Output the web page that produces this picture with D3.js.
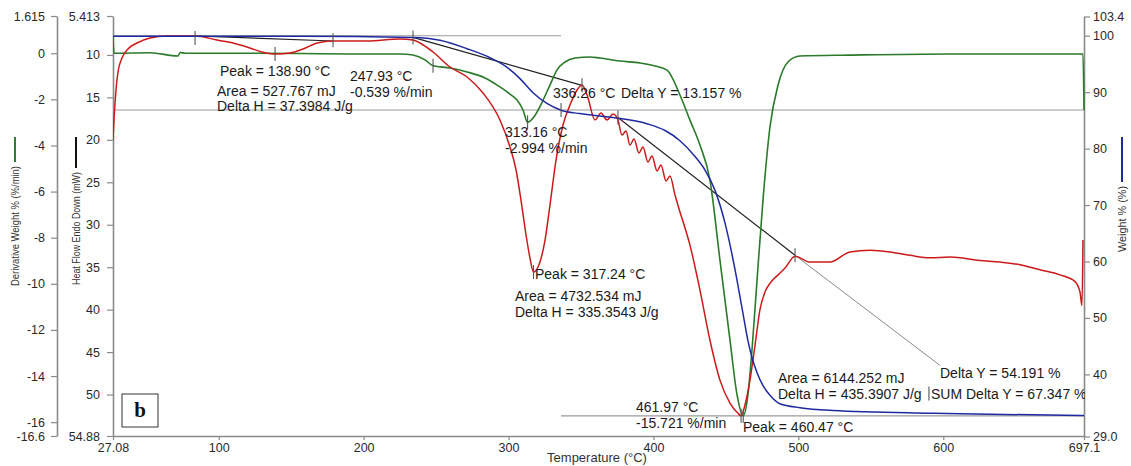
<!DOCTYPE html>
<html><head><meta charset="utf-8">
<script src="https://cdn.jsdelivr.net/npm/d3@7"></script>
<style>
html,body{margin:0;padding:0;background:#fff;}
svg{display:block;font-family:"Liberation Sans",Arial,sans-serif;}
.tick text{font-size:12.5px;fill:#2a2a2a;}
.ann{font-size:14px;fill:#1a1a1a;}
</style></head>
<body><svg id="c" width="1131" height="466"></svg>
<script>
// ---------------- data ----------------
// Weight % (blue)
const tempW = [27.08, 87.1, 156.1, 234.1, 252.7, 271.4, 287.2, 299.0, 307.9, 316.9, 326.5, 336.2, 349.3, 372.1, 395.5, 408.0, 418.3, 428.7, 435.6, 442.5, 449.4, 455.6, 461.1, 465.2, 468.0, 471.5, 475.6, 480.4, 487.3, 501.1, 523.9, 592.9, 697.1];
const weightPct = [99.9, 99.9, 99.9, 99.7, 99.2, 97.7, 96.1, 94.4, 92.4, 89.9, 88.0, 86.8, 86.2, 85.5, 84.4, 83.2, 81.4, 78.6, 76.2, 72.6, 66.8, 59.5, 51.8, 46.0, 43.0, 40.3, 38.0, 36.3, 34.8, 34.1, 33.6, 33.1, 32.7];
// Derivative weight %/min (green)
const tempD = [27.08, 27.8, 52.6, 71.9, 73.5, 76.8, 121.6, 156.1, 190.6, 225.1, 234.1, 242.4, 247.9, 259.6, 271.4, 283.8, 294.1, 301.0, 305.9, 310.0, 313.16, 318.0, 322.9, 328.6, 333.4, 339.0, 345.9, 356.2, 363.1, 376.9, 390.7, 401.1, 409.4, 418.3, 425.2, 432.1, 439.0, 445.9, 452.8, 457.7, 461.97, 465.2, 468.0, 471.5, 475.6, 480.4, 486.0, 492.8, 501.1, 535.6, 604.6, 696.4, 697.1];
const derivPct = [0.75, 0.0, 0.02, -0.12, 0.03, 0.0, 0.0, -0.01, -0.03, -0.03, -0.08, -0.29, -0.54, -0.64, -0.81, -1.07, -1.46, -1.77, -2.03, -2.46, -2.994, -2.72, -2.16, -1.38, -0.73, -0.38, -0.21, -0.16, -0.21, -0.34, -0.42, -0.55, -0.73, -1.81, -2.90, -3.98, -5.50, -8.97, -12.43, -14.82, -15.721, -14.82, -12.87, -9.83, -6.36, -3.20, -1.38, -0.38, -0.12, -0.08, -0.03, -0.03, -2.46];
// Heat flow mW (red)
const tempH = [27.08, 27.77, 29.15, 30.53, 33.29, 37.43, 43.64, 52.6, 64.3, 83.7, 98.8, 109.9, 121.6, 129.9, 138.9, 149.2, 158.2, 167.9, 178.9, 202.4, 225.1, 234.1, 238.9, 247.9, 259.6, 271.4, 282.4, 294.1, 301.0, 305.2, 308.6, 312.1, 314.8, 317.24, 321.7, 325.2, 328.6, 332.8, 337.6, 342.4, 347.3, 350.7, 354.2, 359.7, 363.8, 368.0, 372.1, 375.5, 378.3, 381.1, 383.8, 386.6, 390.0, 392.8, 396.2, 399.0, 402.5, 405.2, 408.7, 411.4, 414.9, 418.3, 421.1, 425.2, 432.1, 439.0, 445.9, 452.8, 458.3, 460.47, 463.2, 466.6, 470.1, 473.5, 477.0, 480.4, 486.0, 490.8, 497.7, 508.0, 521.8, 535.6, 549.4, 563.2, 577.0, 590.8, 604.6, 625.3, 639.1, 652.9, 666.7, 680.5, 690.9, 694.3, 695.7, 696.4];
const heatMW = [20.0, 17.66, 14.13, 12.01, 10.36, 9.30, 8.59, 8.0, 7.77, 7.77, 8.24, 8.59, 9.18, 9.65, 9.89, 9.77, 9.30, 8.59, 8.36, 8.36, 8.12, 8.24, 8.59, 9.65, 11.42, 12.6, 14.48, 17.66, 20.84, 23.55, 27.09, 31.21, 33.92, 35.57, 34.39, 31.8, 27.68, 22.37, 18.25, 15.9, 14.13, 13.54, 14.72, 17.66, 16.84, 17.66, 16.96, 17.66, 19.43, 18.96, 20.61, 19.90, 21.55, 20.84, 22.61, 21.90, 23.67, 22.96, 24.85, 24.26, 26.5, 28.5, 30.0, 32.4, 37.7, 43.6, 48.3, 51.0, 52.2, 52.5, 51.2, 48.3, 44.2, 40.0, 37.9, 36.9, 35.9, 35.1, 33.7, 34.4, 34.4, 33.2, 33.0, 33.2, 33.6, 33.9, 33.8, 34.2, 34.4, 34.7, 35.3, 35.9, 36.7, 37.9, 39.5, 31.8];

// axis ticks
const xTicks = [27.08, 100, 200, 300, 400, 500, 600, 697.1];
const dTicks = [1.615, 0, -2, -4, -6, -8, -10, -12, -14, -16, -16.6];
const hTicks = [5.413, 10, 15, 20, 25, 30, 35, 40, 45, 50, 54.88];
const wTicks = [103.4, 100, 90, 80, 70, 60, 50, 40, 29.0];

// step analysis levels (weight %)
const stepLevels = [100.0, 86.843, 32.652];
const stepSpans = [[27.08, 336.26], [27.08, 697.1], [336.26, 697.1]];

// ---------------- chart ----------------
const svg = d3.select("#c");
svg.append("rect").attr("width",1131).attr("height",466).attr("fill","#fff");

const x  = d3.scaleLinear().domain([27.08, 697.1]).range([113, 1084]);
const yD = d3.scaleLinear().domain([-16.6, 1.615]).range([436, 16]);
const yH = d3.scaleLinear().domain([5.413, 54.88]).range([16, 436]);
const yW = d3.scaleLinear().domain([29.0, 103.4]).range([436.5, 16.5]);
const sc = {D:yD, H:yH, W:yW};

const axisCol = "#8a8a8a";
function styleAxis(g){
  g.select(".domain").attr("stroke",axisCol).attr("stroke-width",1.6);
  g.selectAll(".tick line").attr("stroke",axisCol).attr("stroke-width",1.2);
}
const fmt = v => String(v);
svg.append("g").attr("transform","translate(0,436)")
  .call(d3.axisBottom(x).tickValues(xTicks).tickFormat(d => d===697.1?"697.1":d===27.08?"27.08":d3.format("d")(d)).tickSize(4).tickSizeOuter(0).tickPadding(3))
  .call(styleAxis);
svg.append("g").attr("transform","translate(57,0)")
  .call(d3.axisLeft(yD).tickValues(dTicks).tickFormat(fmt).tickSize(6).tickSizeOuter(0).tickPadding(6))
  .call(styleAxis);
svg.append("g").attr("transform","translate(113,0)")
  .call(d3.axisLeft(yH).tickValues(hTicks).tickFormat(fmt).tickSize(6).tickSizeOuter(0).tickPadding(7))
  .call(styleAxis);
svg.append("g").attr("transform","translate(1084,0)")
  .call(d3.axisRight(yW).tickValues(wTicks).tickFormat(d => d===29?"29.0":fmt(d)).tickSize(6).tickSizeOuter(0).tickPadding(3))
  .call(styleAxis);
svg.selectAll(".tick text").attr("font-family","Liberation Sans, Arial, sans-serif");

// axis titles
svg.append("text").attr("x",597).attr("y",462).attr("text-anchor","middle")
  .attr("font-size",13).attr("fill","#333").text("Temperature (°C)");
function vTitle(xp, yEnd, txt, len, col){
  svg.append("line").attr("x1",xp).attr("x2",xp).attr("y1",137).attr("y2",yEnd-4)
    .attr("stroke",col).attr("stroke-width",2);
  svg.append("text").attr("transform",`translate(${xp+4},${yEnd}) rotate(-90)`)
    .attr("text-anchor","end").attr("font-size",11.5).attr("fill","#333")
    .attr("textLength",len).attr("lengthAdjust","spacingAndGlyphs").text(txt);
}
vTitle(15, 166, "Derivative Weight % (%/min)", 120, "#2e7d32");
vTitle(76, 172, "Heat Flow Endo Down (mW)", 113, "#111");
vTitle(1122, 186, "Weight % (%)", 66, "#1f2a9e");

// clip for plot
svg.append("clipPath").attr("id","pc").append("rect").attr("x",113).attr("y",14).attr("width",972).attr("height",424);
const plot = svg.append("g").attr("clip-path","url(#pc)");

// step reference lines (gray)
stepLevels.forEach((lv,i)=>{
  plot.append("line").attr("x1",x(stepSpans[i][0])).attr("x2",x(stepSpans[i][1]))
    .attr("y1",yW(lv)).attr("y2",yW(lv)).attr("stroke","#9a9a9a").attr("stroke-width",1.1);
});
// leader line for Delta Y = 54.191 %
const leaderT = [497.7, 597.7], leaderW = [61.1, 41.6];
plot.append("line").attr("x1",x(leaderT[0])).attr("y1",yW(leaderW[0])).attr("x2",x(leaderT[1])).attr("y2",yW(leaderW[1]))
  .attr("stroke","#8a8a8a").attr("stroke-width",1);

// black baselines / tangents
const baseH_T = [83.7, 178.9], baseH_V = [7.77, 8.36];
const tan1_T = [234.1, 350.7], tan1_W = [99.7, 91.2];
const tan2_T = [375.5, 497.7], tan2_W = [85.5, 61.1];
plot.append("line").attr("x1",x(baseH_T[0])).attr("y1",yH(baseH_V[0])).attr("x2",x(baseH_T[1])).attr("y2",yH(baseH_V[1])).attr("stroke","#222").attr("stroke-width",1.2);
plot.append("line").attr("x1",x(tan1_T[0])).attr("y1",yW(tan1_W[0])).attr("x2",x(tan1_T[1])).attr("y2",yW(tan1_W[1])).attr("stroke","#222").attr("stroke-width",1.2);
plot.append("line").attr("x1",x(tan2_T[0])).attr("y1",yW(tan2_W[0])).attr("x2",x(tan2_T[1])).attr("y2",yW(tan2_W[1])).attr("stroke","#222").attr("stroke-width",1.2);

// curves
function draw(ts, vs, s, col, w){
  const pts = ts.map((t,i)=>[t,vs[i]]);
  plot.append("path").datum(pts).attr("fill","none").attr("stroke",col).attr("stroke-width",w)
    .attr("stroke-linejoin","round")
    .attr("d", d3.line().x(d=>x(d[0])).y(d=>s(d[1])).curve(d3.curveMonotoneX));
}
draw(tempD, derivPct, yD, "#2a7a2a", 1.6);
draw(tempH, heatMW, yH, "#cc1a1a", 1.5);
draw(tempW, weightPct, yW, "#1f2aa0", 1.5);

// analysis markers (small vertical ticks)
const markT = [83.7, 138.9, 178.9, 234.1, 247.93, 313.16, 336.26, 350.7, 375.5, 317.24, 460.47, 461.97, 497.7, 590.1];
const markS = ["W","H","W","W","D","D","W","W","W","H","H","D","W","W"];
const markV = [99.6, 9.89, 99.2, 99.7, -0.539, -2.994, 86.84, 91.2, 85.5, 35.57, 52.5, -15.721, 61.1, 36.6];
markT.forEach((t,i)=>{
  const yy = sc[markS[i]](markV[i]);
  svg.append("line").attr("x1",x(t)).attr("x2",x(t)).attr("y1",yy-7).attr("y2",yy+7)
    .attr("stroke","#555").attr("stroke-width",1.1);
});

// annotation texts
const ann = [
  [220, 76, "Peak = 138.90 °C"],
  [350, 81, "247.93 °C"],
  [350, 96.5, "-0.539 %/min"],
  [217, 95.5, "Area = 527.767 mJ"],
  [217, 111, "Delta H = 37.3984 J/g"],
  [505, 137, "313.16 °C"],
  [505, 152.5, "-2.994 %/min"],
  [553, 98, "336.26 °C"],
  [621, 98, "Delta Y = 13.157 %"],
  [535, 279, "Peak = 317.24 °C"],
  [515, 301, "Area = 4732.534 mJ"],
  [515, 316.5, "Delta H = 335.3543 J/g"],
  [940, 378, "Delta Y = 54.191 %"],
  [778, 383, "Area = 6144.252 mJ"],
  [778, 398.5, "Delta H = 435.3907 J/g"],
  [931, 398.5, "SUM Delta Y = 67.347 %"],
  [636, 412, "461.97 °C"],
  [636, 427.5, "-15.721 %/min"],
  [743, 432, "Peak = 460.47 °C"]
];
const annG = svg.append("g").attr("clip-path","url(#pc)");
ann.forEach(a=>{
  annG.append("text").attr("class","ann").attr("x",a[0]).attr("y",a[1]).text(a[2]);
});

// panel letter
svg.append("rect").attr("x",122).attr("y",394).attr("width",36).attr("height",33)
  .attr("fill","#fff").attr("stroke","#333").attr("stroke-width",1);
svg.append("text").attr("x",140).attr("y",417).attr("text-anchor","middle")
  .attr("font-family","Liberation Serif, Times New Roman, serif").attr("font-weight","bold")
  .attr("font-size",21).attr("fill","#111").text("b");
</script></body></html>
